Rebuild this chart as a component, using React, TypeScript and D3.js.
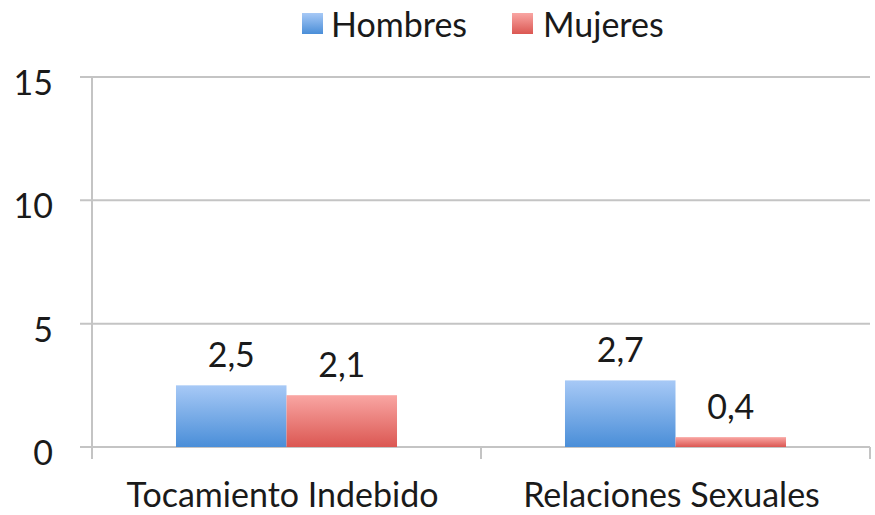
import React from 'react';
import * as d3 from 'd3';

const categories = ['Tocamiento Indebido', 'Relaciones Sexuales'];
const seriesNames = ['Hombres', 'Mujeres'];
const hombres = [2.5, 2.7];
const mujeres = [2.1, 0.4];
const yTicks = [0, 5, 10, 15];

const width = 875;
const height = 515;
const margin = { top: 77, right: 5, bottom: 68, left: 92 };
const font = 'Lato, "Open Sans", sans-serif';
const fontSize = 34;

const App = () => {
    const innerW = width - margin.left - margin.right;
    const innerH = height - margin.top - margin.bottom;

    const xScale = d3.scaleBand()
        .domain(categories)
        .range([0, innerW])
        .paddingInner(0)
        .paddingOuter(0);

    const xInner = d3.scaleBand()
        .domain(seriesNames)
        .range([0, xScale.bandwidth()])
        .paddingOuter(0.76);

    const yScale = d3.scaleLinear()
        .domain([0, 15])
        .range([innerH, 0]);

    const series = [
        { name: 'Hombres', values: hombres, grad: 'gradBlue' },
        { name: 'Mujeres', values: mujeres, grad: 'gradRed' }
    ];

    const fmt = (v: number) => d3.format('.1f')(v).replace('.', ',');
    const axisColor = '#c4c4c4';

    return (
        <svg width={width} height={height} style={{ position: 'absolute', left: 0, top: 0, background: '#fff' }}>
            <defs>
                <linearGradient id="gradBlue" x1="0" y1="0" x2="0" y2="1">
                    <stop offset="0%" stopColor="#a7c9f6" />
                    <stop offset="100%" stopColor="#4a8ed8" />
                </linearGradient>
                <linearGradient id="gradRed" x1="0" y1="0" x2="0" y2="1">
                    <stop offset="0%" stopColor="#f9a6a3" />
                    <stop offset="100%" stopColor="#db5752" />
                </linearGradient>
            </defs>

            {/* leyenda */}
            <g fontFamily={font} fontSize={fontSize} fill="#1a1a1a">
                <rect x={302} y={13} width={21} height={21} fill="url(#gradBlue)" />
                <text x={331} y={37}>Hombres</text>
                <rect x={512} y={13} width={21} height={21} fill="url(#gradRed)" />
                <text x={543} y={37}>Mujeres</text>
            </g>

            <g transform={`translate(${margin.left}, ${margin.top})`}>
                {/* gridlines + y ticks */}
                {yTicks.map(t => (
                    <g key={t}>
                        <line x1={-12} x2={innerW} y1={yScale(t)} y2={yScale(t)} stroke={axisColor} strokeWidth={2} />
                        <text x={-39} y={yScale(t) + 18} textAnchor="end" fontFamily={font} fontSize={fontSize} fill="#1a1a1a">{t}</text>
                    </g>
                ))}
                <line x1={0} x2={0} y1={0} y2={innerH + 12} stroke={axisColor} strokeWidth={2} />

                {/* x ticks */}
                {[0, 1, 2].map(i => (
                    <line key={i} x1={i * xScale.bandwidth()} x2={i * xScale.bandwidth()} y1={innerH} y2={innerH + 12} stroke={axisColor} strokeWidth={2} />
                ))}

                {/* barras */}
                {series.map(s => (
                    <g key={s.name}>
                        {categories.map((c, i) => {
                            const x = (xScale(c) ?? 0) + (xInner(s.name) ?? 0);
                            const y = yScale(s.values[i]);
                            return (
                                <g key={c}>
                                    <rect x={x} y={y} width={xInner.bandwidth()} height={innerH - y} fill={`url(#${s.grad})`} />
                                    <text x={x + xInner.bandwidth() / 2} y={y - 18} textAnchor="middle" fontFamily={font} fontSize={fontSize} fill="#1a1a1a">{fmt(s.values[i])}</text>
                                </g>
                            );
                        })}
                    </g>
                ))}

                {/* categorias */}
                {categories.map(c => (
                    <text key={c} x={(xScale(c) ?? 0) + xScale.bandwidth() / 2 - 4} y={innerH + 60} textAnchor="middle" fontFamily={font} fontSize={fontSize} fill="#1a1a1a">{c}</text>
                ))}
            </g>
        </svg>
    );
};

export default App;
